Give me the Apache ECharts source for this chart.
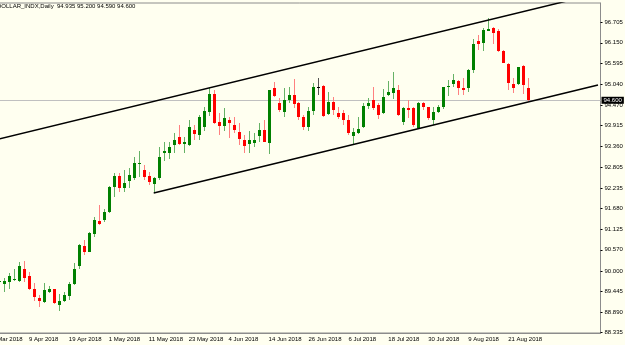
<!DOCTYPE html>
<html>
<head>
<meta charset="utf-8">
<script src="https://cdn.jsdelivr.net/npm/echarts@6/dist/echarts.min.js"></script>
<style>
  html, body { margin: 0; padding: 0; background: #fffff0; }
  #chart { width: 625px; height: 345px; }
</style>
</head>
<body>
<div id="chart"></div>
<script>
// trading days on the time axis (the last ones are the empty shift area)
var days = [
  '28 Mar 2018', '29 Mar 2018', '30 Mar 2018',
  '2 Apr 2018', '3 Apr 2018', '4 Apr 2018', '5 Apr 2018', '6 Apr 2018',
  '9 Apr 2018', '10 Apr 2018', '11 Apr 2018', '12 Apr 2018', '13 Apr 2018',
  '16 Apr 2018', '17 Apr 2018', '18 Apr 2018', '19 Apr 2018', '20 Apr 2018',
  '23 Apr 2018', '24 Apr 2018', '25 Apr 2018', '26 Apr 2018', '27 Apr 2018',
  '30 Apr 2018', '1 May 2018', '2 May 2018', '3 May 2018', '4 May 2018',
  '7 May 2018', '8 May 2018', '9 May 2018', '10 May 2018', '11 May 2018',
  '14 May 2018', '15 May 2018', '16 May 2018', '17 May 2018', '18 May 2018',
  '21 May 2018', '22 May 2018', '23 May 2018', '24 May 2018', '25 May 2018',
  '28 May 2018', '29 May 2018', '30 May 2018', '31 May 2018', '1 Jun 2018',
  '4 Jun 2018', '5 Jun 2018', '6 Jun 2018', '7 Jun 2018', '8 Jun 2018',
  '11 Jun 2018', '12 Jun 2018', '13 Jun 2018', '14 Jun 2018', '15 Jun 2018',
  '18 Jun 2018', '19 Jun 2018', '20 Jun 2018', '21 Jun 2018', '22 Jun 2018',
  '25 Jun 2018', '26 Jun 2018', '27 Jun 2018', '28 Jun 2018', '29 Jun 2018',
  '2 Jul 2018', '3 Jul 2018', '4 Jul 2018', '5 Jul 2018', '6 Jul 2018',
  '9 Jul 2018', '10 Jul 2018', '11 Jul 2018', '12 Jul 2018', '13 Jul 2018',
  '16 Jul 2018', '17 Jul 2018', '18 Jul 2018', '19 Jul 2018', '20 Jul 2018',
  '23 Jul 2018', '24 Jul 2018', '25 Jul 2018', '26 Jul 2018', '27 Jul 2018',
  '30 Jul 2018', '31 Jul 2018', '1 Aug 2018', '2 Aug 2018', '3 Aug 2018',
  '6 Aug 2018', '7 Aug 2018', '8 Aug 2018', '9 Aug 2018', '10 Aug 2018',
  '13 Aug 2018', '14 Aug 2018', '15 Aug 2018', '16 Aug 2018', '17 Aug 2018',
  '20 Aug 2018', '21 Aug 2018', '22 Aug 2018', '23 Aug 2018', '24 Aug 2018',
  '27 Aug 2018', '28 Aug 2018', '29 Aug 2018', '30 Aug 2018', '31 Aug 2018',
  '3 Sep 2018', '4 Sep 2018', '5 Sep 2018', '6 Sep 2018', '7 Sep 2018',
  '10 Sep 2018', '11 Sep 2018', '12 Sep 2018', '13 Sep 2018', '14 Sep 2018'
];

var firstCandleDay = '30 Mar 2018';

// [open, high, low, close] per day from 30 Mar 2018
var candles = [
  [89.72, 89.78, 89.70, 89.74], [89.65, 89.80, 89.44, 89.72], [89.71, 89.94, 89.50, 89.85],
  [89.77, 90.04, 89.74, 89.78], [89.74, 90.25, 89.71, 90.12], [90.04, 90.28, 89.71, 89.80],
  [89.86, 89.96, 89.49, 89.51], [89.51, 89.67, 89.20, 89.31], [89.28, 89.35, 89.02, 89.19],
  [89.17, 89.68, 89.14, 89.49], [89.44, 89.59, 89.40, 89.50], [89.51, 89.52, 89.11, 89.13],
  [89.08, 89.37, 88.92, 89.20], [89.20, 89.44, 89.15, 89.35], [89.33, 89.71, 89.22, 89.65],
  [89.65, 90.22, 89.62, 90.04], [90.13, 90.73, 90.04, 90.70], [90.68, 90.83, 90.43, 90.52],
  [90.52, 91.04, 90.50, 91.01], [91.00, 91.45, 90.91, 91.37], [91.35, 91.78, 91.24, 91.27],
  [91.36, 91.66, 91.33, 91.60], [91.60, 92.29, 91.57, 92.25], [92.25, 92.63, 92.00, 92.56],
  [92.57, 92.63, 92.14, 92.23], [92.24, 92.72, 92.14, 92.38], [92.42, 92.78, 92.24, 92.59],
  [92.50, 93.08, 92.45, 92.90], [92.90, 93.22, 92.54, 92.92], [92.72, 92.86, 92.45, 92.54],
  [92.56, 92.68, 92.32, 92.39], [92.33, 92.54, 92.09, 92.50], [92.50, 93.35, 92.45, 93.08],
  [93.17, 93.48, 92.97, 93.24], [93.17, 93.48, 93.03, 93.35], [93.39, 93.71, 93.17, 93.53],
  [93.60, 93.93, 93.39, 93.42], [93.42, 93.62, 93.17, 93.48], [93.39, 94.07, 93.37, 93.87],
  [93.80, 93.93, 93.53, 93.68], [93.66, 94.20, 93.53, 94.16], [93.89, 94.43, 93.77, 94.31],
  [94.29, 94.92, 94.18, 94.77], [94.77, 94.88, 93.96, 93.98], [94.02, 94.27, 93.66, 93.91],
  [93.91, 94.38, 93.77, 94.11], [94.07, 94.16, 93.57, 93.98], [93.93, 94.16, 93.71, 93.80],
  [93.75, 93.98, 93.39, 93.55], [93.53, 93.66, 93.17, 93.38], [93.42, 93.77, 93.17, 93.53],
  [93.46, 93.73, 93.35, 93.53], [93.65, 93.98, 93.48, 93.80], [93.80, 94.07, 93.48, 93.48],
  [93.46, 94.88, 93.14, 94.88], [94.92, 95.10, 94.70, 94.72], [94.52, 94.65, 94.29, 94.34],
  [94.29, 94.92, 94.16, 94.61], [94.61, 94.95, 94.52, 94.74], [94.74, 95.17, 94.40, 94.50],
  [94.52, 94.56, 94.07, 94.16], [94.16, 94.20, 93.80, 93.89], [93.89, 94.43, 93.78, 94.32],
  [94.32, 95.06, 94.20, 94.97], [94.97, 95.19, 94.74, 94.97], [94.98, 95.01, 94.16, 94.18],
  [94.23, 94.83, 94.20, 94.56], [94.56, 94.70, 94.20, 94.34], [94.27, 94.43, 94.09, 94.16],
  [94.25, 94.34, 93.93, 94.07], [94.07, 94.20, 93.66, 93.73], [93.64, 93.84, 93.42, 93.75],
  [93.73, 94.14, 93.69, 93.82], [93.89, 94.52, 93.84, 94.45], [94.45, 94.65, 94.36, 94.52],
  [94.61, 94.97, 94.34, 94.38], [94.47, 94.52, 94.10, 94.20], [94.25, 94.90, 94.22, 94.70],
  [94.74, 95.13, 94.72, 94.81], [94.79, 95.37, 94.63, 94.92], [94.88, 95.01, 94.18, 94.20],
  [94.02, 94.43, 93.93, 94.38], [94.38, 94.61, 94.11, 94.34], [94.38, 94.43, 93.89, 93.93],
  [93.84, 94.56, 93.82, 94.54], [94.52, 94.56, 94.34, 94.43], [94.41, 94.43, 94.07, 94.11],
  [94.07, 94.43, 93.93, 94.29], [94.29, 94.47, 94.25, 94.43], [94.43, 94.97, 94.36, 94.95],
  [94.97, 95.15, 94.71, 94.99], [95.04, 95.31, 94.97, 95.15], [95.13, 95.15, 94.74, 94.94],
  [94.92, 95.19, 94.74, 94.88], [94.92, 95.43, 94.83, 95.42], [95.42, 96.24, 95.33, 96.12],
  [96.20, 96.36, 95.96, 96.11], [96.15, 96.54, 95.94, 96.49], [96.48, 96.81, 96.48, 96.52],
  [96.54, 96.58, 96.13, 96.40], [96.48, 96.51, 95.91, 95.94], [95.94, 95.96, 95.60, 95.61],
  [95.58, 95.60, 94.89, 95.07], [95.04, 95.19, 94.79, 94.92], [95.04, 95.51, 95.01, 95.49],
  [95.52, 95.55, 94.77, 95.01], [94.935, 95.200, 94.590, 94.600]
];

var yTicks = [88.335, 88.890, 89.445, 90.000, 90.570, 91.125, 91.680, 92.235,
              92.805, 93.360, 93.915, 94.470, 95.040, 95.595, 96.150, 96.705];

// channel lines: two anchor points each [day, price]
var upperTrend = [['28 Mar 2018', 93.49], ['14 Sep 2018', 97.48]];
var lowerTrend = [['14 May 2018', 92.10], ['14 Sep 2018', 95.01]];

var symbolName = 'DOLLAR_INDX,Daily';

(function () {
  var chart = echarts.init(document.getElementById('chart'));
  var font = 'Liberation Sans, Arial, sans-serif';
  var offset = days.indexOf(firstCandleDay);
  var last = candles[candles.length - 1];

  var candleData = candles.map(function (c, i) {
    return [i + offset, c[0], c[1], c[2], c[3]];
  });

  function renderCandle(params, api) {
    var idx = api.value(0);
    var o = api.value(1), h = api.value(2), l = api.value(3), c = api.value(4);
    var pH = api.coord([idx, h]);
    var pL = api.coord([idx, l]);
    var yo = api.coord([idx, o])[1];
    var yc = api.coord([idx, c])[1];
    var x = Math.round(pH[0]);
    var top = Math.round(Math.min(yo, yc));
    var bot = Math.round(Math.max(yo, yc));
    var body, wick;
    if (c > o) { body = '#008000'; wick = '#66b266'; }
    else if (c < o) { body = '#ff0000'; wick = '#ff8080'; }
    else { body = '#000000'; wick = '#555555'; }
    return {
      type: 'group',
      children: [
        { type: 'line', shape: { x1: x + 0.5, y1: Math.round(pH[1]), x2: x + 0.5, y2: Math.round(pL[1]) },
          style: { stroke: wick, lineWidth: 1 } },
        { type: 'rect', shape: { x: x - 1, y: top, width: 3, height: Math.max(bot - top, 1) },
          style: { fill: body } }
      ]
    };
  }

  var fmt = function (v) { return v.toFixed(3); };
  var labelDay = function (i) { return i % 8 === 0 && i < offset + candles.length; };

  var option = {
    backgroundColor: '#fffff0',
    animation: false,
    title: {
      text: symbolName + '  ' + last.map(fmt).join(' '),
      left: -3, top: 3, padding: 0,
      textStyle: { fontFamily: font, fontSize: 6, fontWeight: 'normal', color: '#000' }
    },
    grid: {
      left: -13.5, right: 24.5, top: 3, bottom: 12,
      outerBoundsMode: 'none',
      containLabel: false,
      show: true, borderColor: '#8c8c8c', borderWidth: 1, backgroundColor: 'transparent'
    },
    xAxis: {
      type: 'category',
      data: days,
      boundaryGap: true,
      axisLine: { lineStyle: { color: '#8c8c8c' } },
      axisTick: {
        alignWithLabel: true, length: 3, lineStyle: { color: '#000' },
        interval: labelDay
      },
      axisLabel: {
        interval: labelDay,
        align: 'left', margin: 3,
        fontFamily: font, fontSize: 6, color: '#000'
      },
      splitLine: { show: false }
    },
    yAxis: {
      type: 'value',
      position: 'right',
      min: 88.327, max: 97.222,
      axisLine: { show: true, lineStyle: { color: '#8c8c8c' } },
      axisTick: { show: true, customValues: yTicks, length: 2, lineStyle: { color: '#000' } },
      axisLabel: {
        customValues: yTicks, margin: 4,
        formatter: fmt,
        fontFamily: font, fontSize: 6, color: '#000'
      },
      splitLine: { show: false }
    },
    series: [
      {
        type: 'custom',
        renderItem: renderCandle,
        data: candleData,
        encode: { x: 0, y: [1, 2, 3, 4] },
        z: 2,
        silent: true,
        markLine: {
          silent: true, symbol: 'none', z: 1,
          lineStyle: { color: '#c0c0c0', type: 'solid', width: 1 },
          label: {
            position: 'end', distance: 1,
            formatter: function () { return fmt(last[3]); },
            backgroundColor: '#000', color: '#fff', padding: [1, 2, 0, 2],
            fontFamily: font, fontSize: 6
          },
          data: [{ yAxis: last[3] }]
        }
      },
      {
        type: 'line', data: upperTrend, z: 3, silent: true,
        symbol: 'none', clip: true,
        lineStyle: { color: '#000', width: 1.5 }
      },
      {
        type: 'line', data: lowerTrend, z: 3, silent: true,
        symbol: 'none', clip: true,
        lineStyle: { color: '#000', width: 1.5 }
      }
    ]
  };

  chart.setOption(option);
})();
</script>
</body>
</html>
